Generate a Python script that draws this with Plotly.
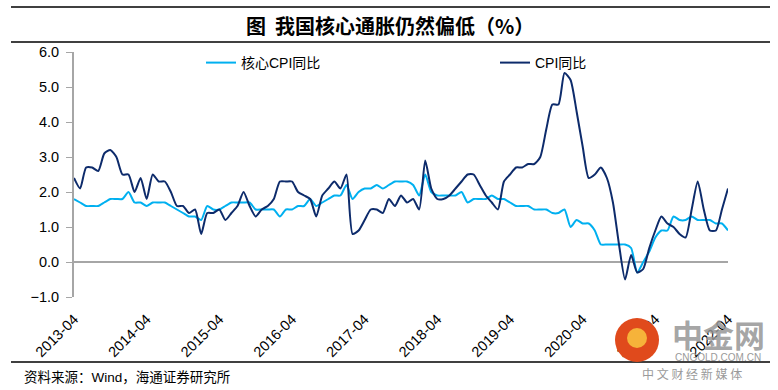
import plotly.graph_objects as go

months = [f"{y}-{m:02d}" for y in range(2013, 2023) for m in range(1, 13)]
months = months[months.index("2013-04"):months.index("2022-04") + 1]

cpi = [
    2.4, 2.1, 2.7, 2.7, 2.6, 3.1, 3.2, 3.0, 2.5,              # 2013 Apr-Dec
    2.5, 2.0, 2.4, 1.8, 2.5, 2.3, 2.3, 2.0, 1.6, 1.6, 1.4, 1.5,  # 2014
    0.8, 1.4, 1.4, 1.5, 1.2, 1.4, 1.6, 2.0, 1.6, 1.3, 1.5, 1.6,  # 2015
    1.8, 2.3, 2.3, 2.3, 2.0, 1.9, 1.8, 1.3, 1.9, 2.1, 2.3, 2.1,  # 2016
    2.5, 0.8, 0.9, 1.2, 1.5, 1.5, 1.4, 1.8, 1.6, 1.9, 1.7, 1.8,  # 2017
    1.5, 2.9, 2.1, 1.8, 1.8, 1.9, 2.1, 2.3, 2.5, 2.5, 2.2, 1.9,  # 2018
    1.7, 1.5, 2.3, 2.5, 2.7, 2.7, 2.8, 2.8, 3.0, 3.8, 4.5, 4.5,  # 2019
    5.4, 5.2, 4.3, 3.3, 2.4, 2.5, 2.7, 2.4, 1.7, 0.5, -0.5, 0.2,  # 2020
    -0.3, -0.2, 0.4, 0.9, 1.3, 1.1, 1.0, 0.8, 0.7, 1.5, 2.3, 1.5,  # 2021
    0.9, 0.9, 1.5, 2.1,                                       # 2022 Jan-Apr
]

core = [
    1.8, 1.7, 1.6, 1.6, 1.6, 1.7, 1.8, 1.8, 1.8,              # 2013 Apr-Dec
    2.0, 1.7, 1.7, 1.6, 1.7, 1.7, 1.7, 1.6, 1.5, 1.4, 1.3, 1.3,  # 2014
    1.2, 1.6, 1.5, 1.5, 1.6, 1.7, 1.7, 1.7, 1.7, 1.5, 1.5, 1.5,  # 2015
    1.5, 1.3, 1.5, 1.5, 1.6, 1.6, 1.8, 1.6, 1.7, 1.8, 1.9, 1.9,  # 2016
    2.2, 1.8, 2.0, 2.1, 2.1, 2.2, 2.1, 2.2, 2.3, 2.3, 2.3, 2.2,  # 2017
    1.9, 2.5, 2.0, 1.9, 1.9, 1.9, 1.9, 2.0, 1.7, 1.8, 1.8, 1.8,  # 2018
    1.9, 1.8, 1.8, 1.7, 1.6, 1.6, 1.6, 1.5, 1.5, 1.5, 1.4, 1.4,  # 2019
    1.5, 1.0, 1.2, 1.1, 1.1, 0.9, 0.5, 0.5, 0.5, 0.5, 0.5, 0.4,  # 2020
    -0.3, 0.0, 0.3, 0.7, 0.9, 0.9, 1.3, 1.2, 1.2, 1.3, 1.2, 1.2,  # 2021
    1.2, 1.1, 1.1, 0.9,                                       # 2022 Jan-Apr
]

tick_labels = [f"{y}-04" for y in range(2013, 2023)]
series_names = ["核心CPI同比", "CPI同比"]
title_text = "图\u00a0\u00a0我国核心通胀仍然偏低（%）"
source_text = "资料来源：Wind，海通证券研究所"

LIGHT = "#00B0F0"
DARK = "#0D2B6B"
FONT = "Liberation Sans, Arial, Noto Sans CJK SC, sans-serif"

fig = go.Figure()
fig.add_trace(go.Scatter(x=months, y=core, name=series_names[0], mode="lines",
                         legend="legend",
                         line=dict(color=LIGHT, width=2, shape="spline", smoothing=0.6)))
fig.add_trace(go.Scatter(x=months, y=cpi, name=series_names[1], mode="lines",
                         legend="legend2",
                         line=dict(color=DARK, width=2, shape="spline", smoothing=0.6)))

W, H = 778, 390
L, R, T, B = 74, 728, 52, 297
def px(xp):
    return (xp - L) / (R - L)
def py(yp):
    return (B - yp) / (B - T)

legend_common = dict(orientation="h", xanchor="left", yanchor="top",
                     font=dict(size=14, family=FONT), bgcolor="rgba(0,0,0,0)",
                     itemclick=False, borderwidth=0)

fig.update_layout(
    width=W, height=H,
    margin=dict(l=L, r=W - R, t=T, b=H - B),
    paper_bgcolor="white", plot_bgcolor="white",
    font=dict(family=FONT, size=14, color="#000000"),
    showlegend=True,
    legend=dict(x=px(201), y=py(47), **legend_common),
    legend2=dict(x=px(495), y=py(47), **legend_common),
    xaxis=dict(type="category", range=[0, len(months) - 1],
               tickvals=tick_labels, ticktext=tick_labels, tickangle=-45,
               showgrid=False, zeroline=False, showline=False, ticks="",
               ticklabelstandoff=10,
               tickfont=dict(size=14.5, family=FONT)),
    yaxis=dict(range=[-1, 6], dtick=1, tickformat=".1f", showgrid=False,
               showline=True, linecolor="#A6A6A6", linewidth=2,
               ticks="outside", ticklen=6, tickcolor="#A6A6A6", tickwidth=1,
               ticklabelstandoff=4,
               zeroline=True, zerolinecolor="#A6A6A6", zerolinewidth=2,
               tickfont=dict(size=14.5, family=FONT)),
)

# Title rules and source rule
for yp in (7, 42, 362):
    fig.add_shape(type="line", xref="paper", yref="paper",
                  x0=px(11), x1=px(770), y0=py(yp), y1=py(yp),
                  line=dict(color="black", width=1.5))

fig.add_annotation(text=f"<b>{title_text}</b>", xref="paper", yref="paper",
                   x=px(390), y=py(25), xanchor="center", yanchor="middle",
                   showarrow=False, font=dict(size=20, family="Noto Sans CJK SC", color="#000"))
fig.add_annotation(text=source_text, xref="paper", yref="paper",
                   x=px(22), y=py(377), xanchor="left", yanchor="middle",
                   showarrow=False, font=dict(size=13.5, family=FONT, color="#000"))

# watermark
fig.add_shape(type="circle", xref="paper", yref="paper", layer="above",
              x0=px(615), x1=px(659), y0=py(318), y1=py(362),
              fillcolor="#E04A1C", line=dict(width=0))
fig.add_shape(type="circle", xref="paper", yref="paper", layer="above",
              x0=px(627), x1=px(647), y0=py(328), y1=py(348),
              fillcolor="#F6B33A", line=dict(width=0))
fig.add_annotation(text="<b>中金网</b>", xref="paper", yref="paper",
                   x=px(718), y=py(333), xanchor="center", yanchor="middle",
                   showarrow=False, font=dict(size=31, family="Noto Sans CJK SC", color="rgba(150,150,150,0.85)"))
fig.add_annotation(text="CNGOLD.COM.CN", xref="paper", yref="paper",
                   x=px(718), y=py(358), xanchor="center", yanchor="middle",
                   showarrow=False, font=dict(size=10, family=FONT, color="#9a9a9a"))
fig.add_annotation(text="中 文 财 经 新 媒 体", xref="paper", yref="paper",
                   x=px(692), y=py(373), xanchor="center", yanchor="middle",
                   showarrow=False, font=dict(size=12, family="Noto Sans CJK SC", color="#9a9a9a"))

fig.write_html("out.html", config={"displayModeBar": False},
               post_script="document.body.style.margin='0';")
